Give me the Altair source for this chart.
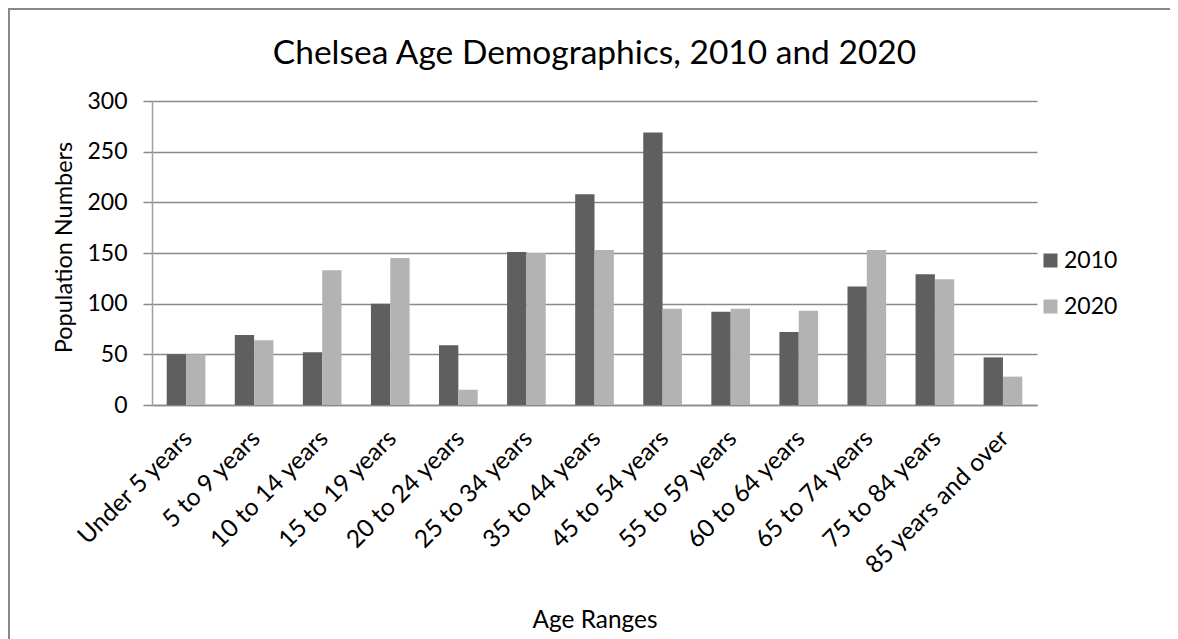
import altair as alt
import pandas as pd

categories = [
    "Under 5 years", "5 to 9 years", "10 to 14 years", "15 to 19 years",
    "20 to 24 years", "25 to 34 years", "35 to 44 years", "45 to 54 years",
    "55 to 59 years", "60 to 64 years", "65 to 74 years", "75 to 84 years",
    "85 years and over",
]
years = ["2010", "2020"]
pop_2010 = [50, 69, 52, 100, 59, 151, 208, 269, 92, 72, 117, 129, 47]
pop_2020 = [50, 64, 133, 145, 15, 150, 153, 95, 95, 93, 153, 124, 28]
y_ticks = [0, 50, 100, 150, 200, 250, 300]
colors = ["#5f5f5f", "#b3b3b3"]

rows = []
for c, a, b in zip(categories, pop_2010, pop_2020):
    rows.append({"Age": c, "Year": years[0], "Population": a})
    rows.append({"Age": c, "Year": years[1], "Population": b})
df = pd.DataFrame(rows)

FONT = "Lato"
W, H = 885, 304
PAD = {"left": 144, "top": 93, "right": 133, "bottom": 234}
GRID = "#8a8a8a"

bars = alt.Chart(df).mark_bar().encode(
    x=alt.X(
        "Age:N", sort=categories,
        scale=alt.Scale(paddingInner=0.432, paddingOuter=0.216),
        axis=alt.Axis(
            title="Age Ranges", labelAngle=315, labelFontSize=24.5, labelFont=FONT,
            labelColor="black", labelPadding=21, labelOffset=-6, labelLimit=400,
            ticks=False, domainColor=GRID, domainWidth=1.5,
            titleFont=FONT, titleFontSize=24.4, titleFontWeight="normal",
            titleColor="black", titleX=W / 2, titleY=222,
            titleBaseline="alphabetic", titleAlign="center",
        ),
    ),
    xOffset=alt.XOffset("Year:N", sort=years,
                        scale=alt.Scale(paddingInner=0, paddingOuter=0)),
    y=alt.Y(
        "Population:Q",
        scale=alt.Scale(domain=[0, 300], nice=False),
        axis=alt.Axis(
            title="Population Numbers", values=y_ticks, labelFontSize=23,
            labelFont=FONT, labelColor="black", labelPadding=16,
            tickSize=9, tickColor=GRID, tickWidth=1.5,
            grid=True, gridColor=GRID, gridWidth=1.5,
            domainColor="#a0a0a0", domainWidth=1.5,
            titleFont=FONT, titleFontSize=23.5, titleFontWeight="normal",
            titleColor="black", titleAngle=270, titleX=-81, titleY=146,
            titleBaseline="alphabetic", titleAlign="center",
        ),
    ),
    color=alt.Color(
        "Year:N",
        scale=alt.Scale(domain=years, range=colors),
        legend=alt.Legend(
            title=None, orient="none", legendX=887, legendY=148,
            symbolType="square", symbolSize=196, symbolStrokeWidth=0,
            labelFontSize=23, labelFont=FONT, labelColor="black",
            rowPadding=22, labelOffset=2, padding=0,
        ),
    ),
)

frame_df = pd.DataFrame({"k": [0]})
left_line = alt.Chart(frame_df).mark_rule(color="#888888", strokeWidth=2).encode(
    x=alt.value(-143), y=alt.value(-92), y2=alt.value(H + PAD["bottom"])
)
top_line = alt.Chart(frame_df).mark_rule(color="#888888", strokeWidth=2).encode(
    y=alt.value(-92), x=alt.value(-144), x2=alt.value(W + PAD["right"])
)

chart = alt.layer(bars, left_line, top_line).properties(
    width=W, height=H,
    padding=PAD,
    autosize=alt.AutoSizeParams(type="none"),
    title=alt.Title(
        "Chelsea Age Demographics, 2010 and 2020", font=FONT, fontSize=33.5,
        fontWeight="normal", color="black", anchor="middle", frame="group",
        baseline="alphabetic", offset=-89,
    ),
).configure_view(stroke="transparent")

chart.save("out.html", embed_options={"renderer": "svg", "actions": False})
